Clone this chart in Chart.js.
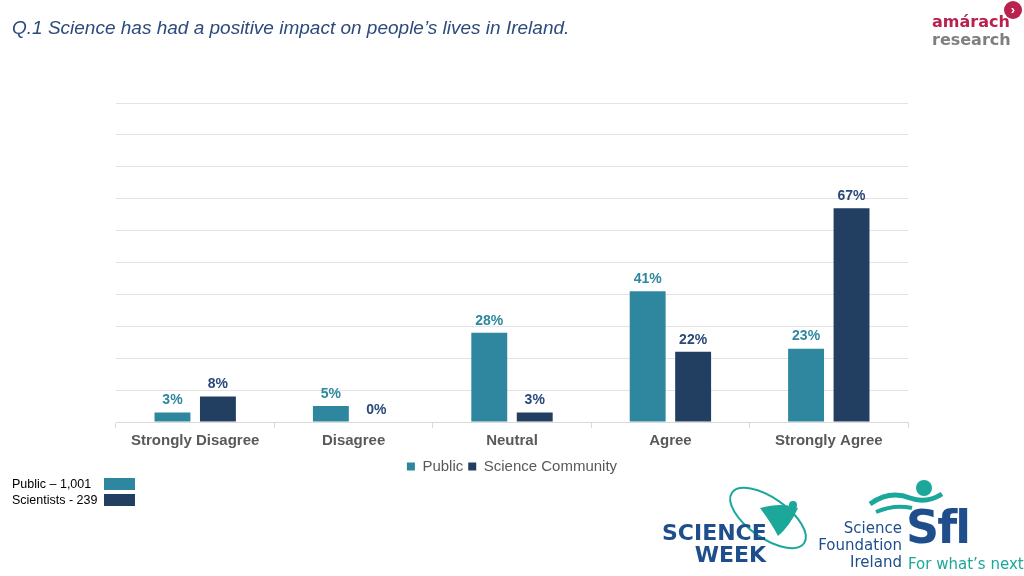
<!DOCTYPE html>
<html>
<head>
<meta charset="utf-8">
<script src="https://cdn.jsdelivr.net/npm/chart.js@4/dist/chart.umd.min.js"></script>
<style>
body{margin:0;background:#fff;font-family:"Liberation Sans",Arial,sans-serif;}
#wrap{position:relative;width:1024px;height:576px;overflow:hidden;}
#grafico{position:absolute;left:0;top:0;}
.titulo{position:absolute;left:12px;top:17px;font-size:19px;font-style:italic;color:#2C4A7C;}
.amarach{position:absolute;left:932px;top:13px;line-height:18px;font-family:"DejaVu Sans",sans-serif;font-weight:bold;font-size:16px;}
.amarach .a{color:#B8224C;}
.amarach .r{color:#7F7F7F;}
.flecha{position:absolute;left:1004px;top:1px;width:18px;height:18px;border-radius:50%;background:#B8224C;color:#fff;font-size:13px;line-height:17px;text-align:center;font-weight:bold;}
.ley{position:absolute;left:12px;font-size:12.5px;color:#000;}
.caja{position:absolute;left:104px;width:31px;height:12px;}
.sw{position:absolute;left:662px;top:522px;font-family:"DejaVu Sans",sans-serif;font-weight:bold;font-size:22px;line-height:22px;color:#1F4E8C;text-align:right;width:104px;}
.sfi1{position:absolute;left:818px;top:520px;font-family:"DejaVu Sans",sans-serif;font-size:15px;line-height:17px;color:#1F4E8C;text-align:right;width:84px;}
.sfi2{position:absolute;left:906px;top:500px;font-family:"DejaVu Sans",sans-serif;font-weight:bold;font-size:46px;color:#1F4E8C;letter-spacing:-2px;}
.sfi3{position:absolute;left:908px;top:555px;font-family:"DejaVu Sans",sans-serif;font-size:15px;color:#1BA89B;}
</style>
</head>
<body>
<div id="wrap">
<canvas id="grafico" width="1024" height="576"></canvas>
<div class="titulo">Q.1 Science has had a positive impact on people’s lives in Ireland.</div>
<div class="amarach"><span class="a">amárach</span><br><span class="r">research</span></div>
<div class="flecha">›</div>
<div class="ley" style="top:477px">Public – 1,001</div>
<div class="ley" style="top:493px">Scientists - 239</div>
<div class="caja" style="top:478px;background:#2E879F"></div>
<div class="caja" style="top:494px;background:#223F62"></div>
<svg style="position:absolute;left:720px;top:480px" width="100" height="80">
<ellipse cx="48" cy="38" rx="44" ry="20" fill="none" stroke="#1BA89B" stroke-width="2" transform="rotate(35 48 38)"/>
<path d="M40 28 Q62 22 78 28 Q70 46 58 56 Q52 44 40 28 Z" fill="#1BA89B"/>
<circle cx="73" cy="25" r="4" fill="#1BA89B"/>
</svg>
<div class="sw">SCIENCE<br>WEEK</div>
<svg style="position:absolute;left:866px;top:478px" width="80" height="40">
<path d="M4 26 Q24 12 44 20 Q60 26 76 16" fill="none" stroke="#1BA89B" stroke-width="5"/>
<path d="M10 34 Q28 26 46 30" fill="none" stroke="#1BA89B" stroke-width="4"/>
<circle cx="58" cy="10" r="8" fill="#1BA89B"/>
</svg>
<div class="sfi1">Science<br>Foundation<br>Ireland</div>
<div class="sfi2">Sfl</div>
<div class="sfi3">For what’s next</div>
</div>
<script>
const categorias = ["Strongly Disagree","Disagree","Neutral","Agree","Strongly Agree"];
const publico = [3,5,28,41,23];
const cientificos = [8,0,3,22,67];
const nombres = ["Public","Science Community"];
const colores = ["#2E879F","#223F62"];
const coloresTexto = ["#2E879F","#2A4877"];

const etiquetas = {
id:"etiquetas",
afterDatasetsDraw(chart){
const ctx = chart.ctx;
ctx.save();
ctx.font = "bold 14px 'Liberation Sans', Arial";
ctx.textAlign = "center";
ctx.textBaseline = "bottom";
chart.data.datasets.forEach(function(ds,i){
ctx.fillStyle = coloresTexto[i];
chart.getDatasetMeta(i).data.forEach(function(bar,j){
ctx.fillText(ds.data[j]+"%", bar.x, bar.y-5);
});
});
ctx.restore();
}
};

const ctx = document.getElementById("grafico");

let grafico = new Chart(ctx, {
type:"bar",
data:{
labels:categorias,
datasets:[
{label:nombres[0],data:publico,backgroundColor:colores[0]},
{label:nombres[1],data:cientificos,backgroundColor:colores[1]}
]
},
options:{
responsive:false,
animation:false,
layout:{padding:{left:116,right:116,top:103,bottom:92}},
datasets:{bar:{categoryPercentage:0.574,barPercentage:0.79}},
scales:{
x:{
grid:{drawOnChartArea:false,color:"#D9D9D9",tickLength:6},
border:{color:"#D9D9D9"},
ticks:{color:"#595959",font:{family:"'Liberation Sans', Arial",size:15,weight:"bold"},padding:4}
},
y:{
min:0,max:100,
ticks:{display:false,stepSize:10},
grid:{color:"#E3E3E3",drawTicks:false},
border:{display:false}
}
},
plugins:{
legend:{
position:"bottom",
labels:{color:"#595959",boxWidth:8,boxHeight:8,padding:5,font:{family:"'Liberation Sans', Arial",size:15}}
},
tooltip:{enabled:false}
}
},
plugins:[etiquetas]
});
</script>
</body>
</html>
